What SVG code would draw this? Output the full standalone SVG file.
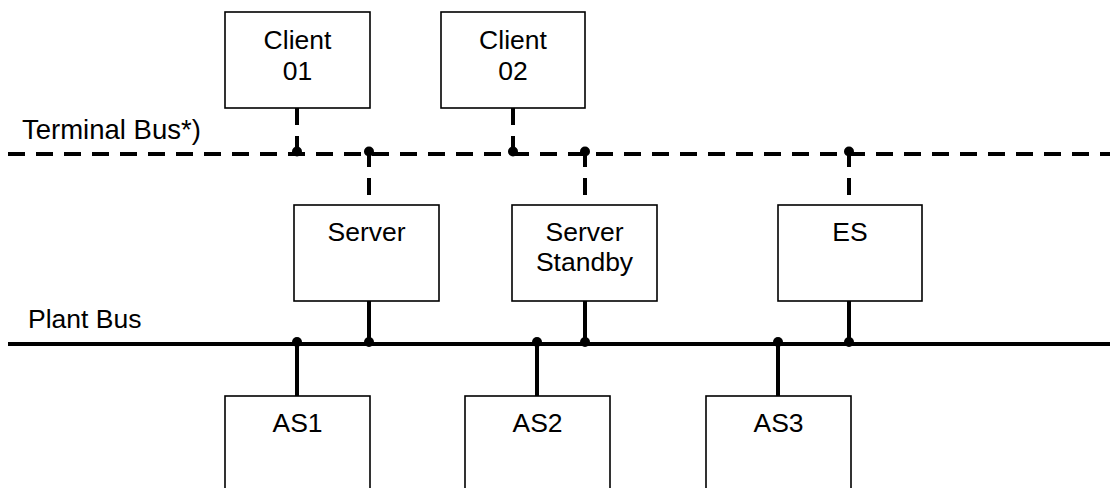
<svg xmlns="http://www.w3.org/2000/svg" width="1110" height="488" viewBox="0 0 1110 488">
  <style>
    .box { fill: #fff; stroke: #000; stroke-width: 1.6; }
    .lbl { font-family: "Liberation Sans", Arial, sans-serif; font-size: 26.5px; fill: #000; text-anchor: middle; }
    .bus-lbl { font-family: "Liberation Sans", Arial, sans-serif; font-size: 26.5px; fill: #000; }
    .bus { fill: none; stroke: #000; stroke-width: 4; }
    .dash { stroke-dasharray: 17 11; }
    .dot { fill: #000; }
  </style>

  <!-- bus labels -->
  <text class="bus-lbl" x="22" y="139" style="font-size:27.5px">Terminal Bus*)</text>
  <text class="bus-lbl" x="28" y="328">Plant Bus</text>

  <!-- connectors: buses, drops and junction dots -->
  <g id="connectors">
    <line class="bus dash" x1="8" y1="154" x2="1110" y2="154"/>
    <line class="bus" x1="8" y1="344" x2="1110" y2="344"/>

    <!-- clients down to terminal bus -->
    <line class="bus dash" x1="297" y1="108" x2="297" y2="153"/>
    <line class="bus dash" x1="513" y1="108" x2="513" y2="153"/>
    <!-- terminal bus down to servers -->
    <line class="bus dash" x1="369" y1="150" x2="369" y2="205"/>
    <line class="bus dash" x1="585" y1="150" x2="585" y2="205"/>
    <line class="bus dash" x1="849" y1="150" x2="849" y2="205"/>
    <!-- servers down to plant bus -->
    <line class="bus" x1="369" y1="301" x2="369" y2="344"/>
    <line class="bus" x1="585" y1="301" x2="585" y2="344"/>
    <line class="bus" x1="849" y1="301" x2="849" y2="344"/>
    <!-- plant bus down to automation stations -->
    <line class="bus" x1="297" y1="342" x2="297" y2="396"/>
    <line class="bus" x1="537" y1="342" x2="537" y2="396"/>
    <line class="bus" x1="778" y1="342" x2="778" y2="396"/>

    <circle class="dot" cx="297" cy="151.5" r="5"/>
    <circle class="dot" cx="369" cy="151.5" r="5"/>
    <circle class="dot" cx="513" cy="151.5" r="5"/>
    <circle class="dot" cx="585" cy="151.5" r="5"/>
    <circle class="dot" cx="849" cy="151.5" r="5"/>

    <circle class="dot" cx="297" cy="342" r="5"/>
    <circle class="dot" cx="369" cy="342" r="5"/>
    <circle class="dot" cx="537" cy="342" r="5"/>
    <circle class="dot" cx="585" cy="342" r="5"/>
    <circle class="dot" cx="778" cy="342" r="5"/>
    <circle class="dot" cx="849" cy="342" r="5"/>
  </g>

  <g id="client01">
    <rect class="box" x="225" y="12" width="145" height="96"/>
    <text class="lbl" x="297.5" y="49">Client</text>
    <text class="lbl" x="297.5" y="80">01</text>
  </g>
  <g id="client02">
    <rect class="box" x="441" y="12" width="144" height="96"/>
    <text class="lbl" x="513" y="49">Client</text>
    <text class="lbl" x="513" y="80">02</text>
  </g>

  <g id="server">
    <rect class="box" x="294" y="205" width="145" height="96"/>
    <text class="lbl" x="366.5" y="241">Server</text>
  </g>
  <g id="server-standby">
    <rect class="box" x="512" y="205" width="145" height="96"/>
    <text class="lbl" x="584.5" y="241">Server</text>
    <text class="lbl" x="584.5" y="271">Standby</text>
  </g>
  <g id="es">
    <rect class="box" x="778" y="205" width="144" height="96"/>
    <text class="lbl" x="850" y="241">ES</text>
  </g>

  <g id="as1">
    <rect class="box" x="225" y="396" width="145" height="110"/>
    <text class="lbl" x="297.5" y="432">AS1</text>
  </g>
  <g id="as2">
    <rect class="box" x="465" y="396" width="145" height="110"/>
    <text class="lbl" x="537.5" y="432">AS2</text>
  </g>
  <g id="as3">
    <rect class="box" x="706" y="396" width="145" height="110"/>
    <text class="lbl" x="778.5" y="432">AS3</text>
  </g>
</svg>
